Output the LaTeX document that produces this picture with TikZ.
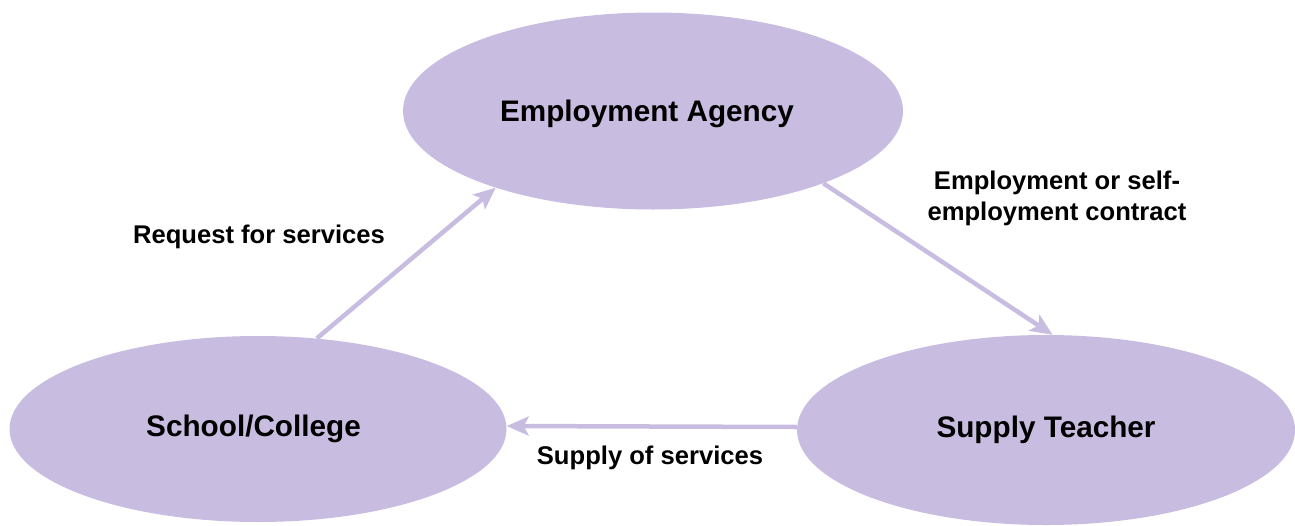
\documentclass[tikz,border=0pt]{standalone}
\usepackage{fontspec}
\setmainfont{Liberation Sans}
\usetikzlibrary{shapes.geometric,arrows.meta}
\definecolor{lav}{RGB}{200,189,224}
\tikzset{
  blob/.style={ellipse, fill=lav, draw=none, inner sep=0pt, font=\fontsize{29.7}{35}\selectfont\bfseries},
  lbl/.style={font=\fontsize{25.6}{31}\selectfont\bfseries, inner sep=0pt, align=center},
  conn/.style={draw=lav, line width=4.5pt, -{Stealth[length=22pt,width=19pt,inset=5pt]}}
}
\begin{document}
\begin{tikzpicture}[x=1pt,y=-1pt]
\useasboundingbox (0,0) rectangle (1295,525);
\node[blob, minimum width=500pt, minimum height=197pt, text depth=0pt] (ea) at (653,111) {\hspace*{-12pt}Employment Agency};
\node[blob, minimum width=497pt, minimum height=186pt] (sc) at (258,429) {\hspace*{-9pt}School/College};
\node[blob, minimum width=498pt, minimum height=190pt] (st) at (1046,430) {Supply Teacher};
\draw[conn] (sc.57) -- (ea.206);
\draw[conn] (ea.337) -- (st.86);
\draw[conn] ([yshift=3pt]st.west) -- ([yshift=3pt]sc.east);
\node[lbl] (l1) at (259,237) {Request for services};
\node[lbl] (l2) at (1057,198) {Employment or self-\\employment contract};
\node[lbl] (l3) at (650,458) {Supply of services};
\end{tikzpicture}
\end{document}
